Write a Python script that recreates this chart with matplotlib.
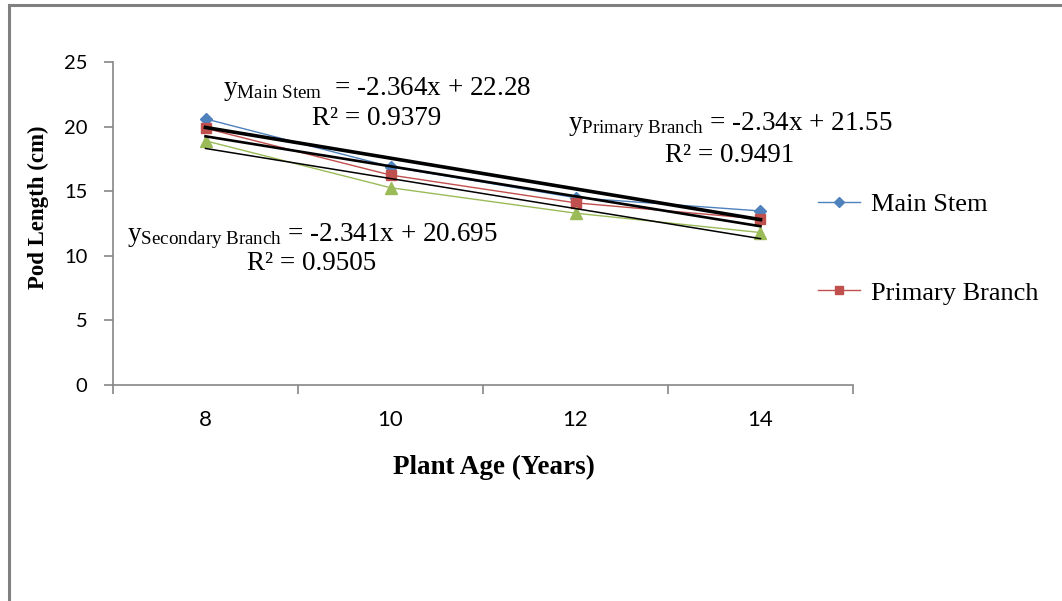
import numpy as np
import matplotlib
matplotlib.use("Agg")
import matplotlib.pyplot as plt
from matplotlib.patches import Rectangle
from matplotlib.lines import Line2D

# ---- data ----
ages = ["8", "10", "12", "14"]
main_stem = [20.6, 16.9, 14.5, 13.47]
primary_branch = [19.87, 16.25, 14.1, 12.85]
secondary_branch = [18.9, 15.27, 13.3, 11.8]
y_ticks = [0, 5, 10, 15, 20, 25]

plt.rcParams['mathtext.fontset'] = 'custom'
plt.rcParams['mathtext.rm'] = 'Liberation Serif'
plt.rcParams['mathtext.it'] = 'Liberation Serif:italic'
plt.rcParams['mathtext.bf'] = 'Liberation Serif:bold'

W, H = 1062, 601
fig = plt.figure(figsize=(W / 100, H / 100), dpi=100)

def fx(px):
    return px / W

def fy(py):
    return 1 - py / H

ax = fig.add_axes([fx(113), fy(385), fx(853) - fx(113), fy(62) - fy(385)])

idx = np.arange(len(ages))
xs = idx + 1  # Excel trendline x

blue = '#4F81BD'
red = '#C0504D'
green = '#9BBB59'

ax.plot(idx, main_stem, color=blue, lw=1.0, marker='D', ms=6.5, zorder=3)
ax.plot(idx, primary_branch, color=red, lw=1.0, marker='s', ms=7.5, zorder=3)
ax.plot(idx, secondary_branch, color=green, lw=1.0, marker='^', ms=8, zorder=3)

for data, lw in [(main_stem, 2.6), (primary_branch, 1.9), (secondary_branch, 1.1)]:
    a, b = np.polyfit(xs, data, 1)
    ax.plot(idx, a * xs + b, color='black', lw=lw, zorder=4)

ax.set_xlim(-0.5, len(ages) - 0.5)
ax.set_ylim(0, 25)
ax.set_yticks(y_ticks)
ax.set_xticks(idx)
ax.set_xticklabels(ages)
ax.set_xticks(np.arange(len(ages) + 1) - 0.5, minor=True)
ax.tick_params(axis='x', which='major', length=0, pad=18, labelsize=16, labelcolor='black')
ax.tick_params(axis='x', which='minor', length=6.5, color='#868686', width=1.2)
ax.tick_params(axis='y', which='major', length=6.5, color='#868686', width=1.2, labelsize=14.5, pad=12)
for lab in ax.get_xticklabels() + ax.get_yticklabels():
    lab.set_fontfamily('Lato')

for s in ['top', 'right']:
    ax.spines[s].set_visible(False)
for s in ['left', 'bottom']:
    ax.spines[s].set_color('#868686')
    ax.spines[s].set_linewidth(1.2)

fig.text(fx(38), fy(207), 'Pod Length (cm)', rotation=90, ha='center', va='center',
         family='Liberation Serif', fontweight='bold', fontsize=16.5)
fig.text(fx(494), fy(467), 'Plant Age (Years)', ha='center', va='center',
         family='Liberation Serif', fontweight='bold', fontsize=19.5)

eq_fs = 19.5
fig.text(fx(223), fy(95), r'$\mathrm{y}_{\mathrm{Main\ Stem}}$  = -2.364x + 22.28', ha='left', va='baseline',
         family='Liberation Serif', fontsize=eq_fs)
fig.text(fx(377), fy(125), 'R² = 0.9379', ha='center', va='baseline', family='Liberation Serif', fontsize=eq_fs)
fig.text(fx(568), fy(130), r'$\mathrm{y}_{\mathrm{Primary\ Branch}}$ = -2.34x + 21.55', ha='left', va='baseline',
         family='Liberation Serif', fontsize=eq_fs)
fig.text(fx(730), fy(162), 'R² = 0.9491', ha='center', va='baseline', family='Liberation Serif', fontsize=eq_fs)
fig.text(fx(127), fy(241), r'$\mathrm{y}_{\mathrm{Secondary\ Branch}}$ = -2.341x + 20.695', ha='left', va='baseline',
         family='Liberation Serif', fontsize=eq_fs)
fig.text(fx(312), fy(270), 'R² = 0.9505', ha='center', va='baseline', family='Liberation Serif', fontsize=eq_fs)

handles = [Line2D([], [], color=blue, lw=1.0, marker='D', ms=5),
           Line2D([], [], color=red, lw=1.0, marker='s', ms=6)]
fig.legend(handles, ['Main Stem', 'Primary Branch'], loc='upper left',
           bbox_to_anchor=(fx(818), fy(193)), frameon=False, borderpad=0, borderaxespad=0,
           handlelength=1.6, handletextpad=0.4, labelspacing=2.45,
           prop={'family': 'Liberation Serif', 'size': 19})

fig.patches.append(Rectangle((fx(9), fy(H + 20)), 1.2, fy(5) - fy(H + 20), transform=fig.transFigure,
                             fill=False, edgecolor='#808080', lw=2.2))

fig.savefig('out.png', dpi=100)
